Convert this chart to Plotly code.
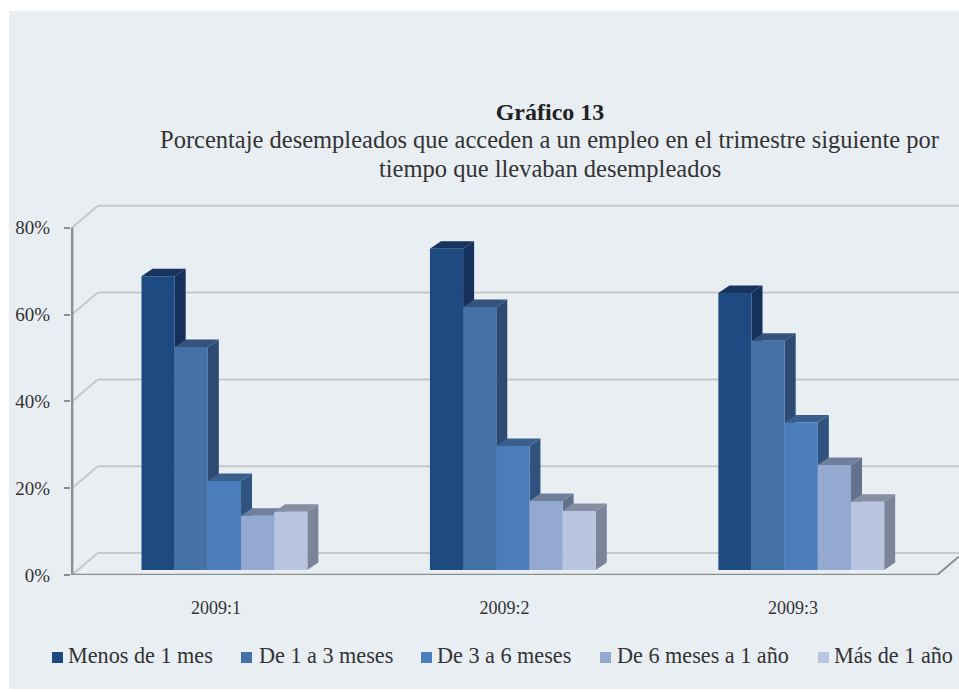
import plotly.graph_objects as go

periods = ["2009:1", "2009:2", "2009:3"]
series_names = ["Menos de 1 mes", "De 1 a 3 meses", "De 3 a 6 meses", "De 6 meses a 1 año", "Más de 1 año"]
menos_1_mes = [67.7, 74.0, 63.8]
de_1_a_3 = [51.4, 60.6, 52.8]
de_3_a_6 = [20.5, 28.6, 34.0]
de_6_a_12 = [12.5, 15.9, 24.2]
mas_1_anio = [13.4, 13.6, 15.7]
series_values = [menos_1_mes, de_1_a_3, de_3_a_6, de_6_a_12, mas_1_anio]
y_ticks = [0, 20, 40, 60, 80]
y_tick_labels = ["0%", "20%", "40%", "60%", "80%"]
title_main = "Gráfico 13"
title_lines = ["Porcentaje desempleados que acceden a un empleo en el trimestre siguiente por",
               "tiempo que llevaban desempleados"]

front_colors = ["#1d4a80", "#4472a8", "#4b7dbc", "#94a9d0", "#b9c5e0"]
side_colors = ["#15305a", "#2c4a72", "#30527f", "#62728f", "#7b8499"]
top_colors = ["#17345f", "#34527c", "#3b5f8c", "#6f7f9c", "#868ea2"]

W, H = 959, 692
FONT = "Liberation Serif"
TXT = "#333333"
px_per_cat = 288.7
px_per_val = 4.34
bar_w = 33.2 / px_per_cat
bar_shift = 0.029
base = 1.15
bdx, bdy = 11 / px_per_cat, 7.5 / px_per_val
wdx, wdy = 26 / px_per_cat, 22 / px_per_val
x_left, x_right = -0.5, 2.5
x_max = x_left + (W - 71) / px_per_cat
y_max = (575 - 200) / px_per_val


def poly(points):
    return "M " + " L ".join(f"{a} {b}" for a, b in points) + " Z"


shapes = [dict(type="rect", xref="paper", yref="paper", x0=9 / W, x1=1, y0=1 - 689 / H, y1=1 - 11 / H,
               fillcolor="#e9eef3", line_width=0, layer="below")]
grid = "#c5c8c9"
for v in y_ticks:
    shapes.append(dict(type="line", xref="x", yref="y", x0=x_left, y0=v, x1=x_left + wdx, y1=v + wdy,
                       line=dict(color=grid, width=2), layer="below"))
    shapes.append(dict(type="line", xref="x", yref="y", x0=x_left + wdx, y0=v + wdy, x1=x_max, y1=v + wdy,
                       line=dict(color=grid, width=2), layer="below"))
shapes.append(dict(type="line", xref="x", yref="y", x0=x_right, y0=0, x1=x_max, y1=(x_max - x_right) / wdx * wdy,
                   line=dict(color="#8b8e90", width=2), layer="below"))

fig = go.Figure()
for j, (name, vals) in enumerate(zip(series_names, series_values)):
    off = (j - 2.5) * bar_w + bar_shift
    fig.add_trace(go.Bar(x=list(range(3)), y=vals, base=base, width=bar_w, offset=off, name=name,
                         marker=dict(color=front_colors[j], line_width=0), showlegend=False))
    for i, v in enumerate(vals):
        x0 = i + off
        x1 = x0 + bar_w
        top = base + v
        shapes.append(dict(type="path", xref="x", yref="y", layer="below", line_width=0,
                           fillcolor=side_colors[j],
                           path=poly([(x1, base), (x1 + bdx, base + bdy), (x1 + bdx, top + bdy), (x1, top)])))
        shapes.append(dict(type="path", xref="x", yref="y", layer="below", line_width=0,
                           fillcolor=top_colors[j],
                           path=poly([(x0, top), (x0 + bdx, top + bdy), (x1 + bdx, top + bdy), (x1, top)])))

shapes.append(dict(type="line", xref="x", yref="y", x0=x_left, y0=0, x1=x_right, y1=0,
                   line=dict(color="#8b8e90", width=2.5), layer="above"))
shapes.append(dict(type="line", xref="x", yref="y", x0=x_left, y0=0, x1=x_left, y1=80,
                   line=dict(color="#8b8e90", width=3), layer="above"))

legend_markers = [52, 241, 421, 600, 818]
legend_texts = [66, 257, 435, 615, 832]
annotations = []
for name, c, mx, tx in zip(series_names, front_colors, legend_markers, legend_texts):
    shapes.append(dict(type="rect", xref="paper", yref="paper", x0=mx / W, x1=(mx + 11) / W,
                       y0=1 - 663 / H, y1=1 - 652 / H, fillcolor=c, line_width=0))
    annotations.append(dict(xref="paper", yref="paper", x=tx / W, y=1 - 655.5 / H, text=name, showarrow=False,
                            xanchor="left", yanchor="middle", font=dict(family=FONT, size=22.2, color=TXT)))
for text, py in zip(title_lines, [139, 168]):
    annotations.append(dict(xref="paper", yref="paper", x=549.5 / W, y=1 - py / H, text=text, showarrow=False,
                            xanchor="center", yanchor="middle", font=dict(family=FONT, size=24.5, color=TXT)))

fig.update_layout(
    width=W, height=H, margin=dict(l=0, r=0, t=0, b=0),
    paper_bgcolor="white", plot_bgcolor="rgba(0,0,0,0)",
    barmode="overlay", showlegend=False, shapes=shapes, annotations=annotations,
    font=dict(family=FONT, color=TXT),
    title=dict(text=f"<b>{title_main}</b>", x=550 / W, xanchor="center", xref="paper", y=1 - 112 / H,
               yanchor="middle", yref="paper", font=dict(family=FONT, size=24, color="#222222")),
    xaxis=dict(domain=[71 / W, 1], range=[x_left - 0.003, x_max], tickmode="array", tickvals=list(range(3)),
               ticktext=periods, showgrid=False, zeroline=False, showline=False, ticks="", automargin=False,
               ticklabelstandoff=20, tickfont=dict(family=FONT, size=18, color=TXT)),
    yaxis=dict(domain=[1 - 575 / H, 1 - 200 / H], range=[0, y_max], tickmode="array", tickvals=y_ticks,
               ticktext=y_tick_labels, showgrid=False, zeroline=False, showline=False, ticks="outside", ticklen=6,
               tickwidth=2, tickcolor="#8b8e90", ticklabelstandoff=10, automargin=False,
               tickfont=dict(family=FONT, size=19, color=TXT)),
)
fig.write_html("out.html", config={"displayModeBar": False},
               post_script="document.body.style.margin='0';document.body.style.overflow='hidden';")
